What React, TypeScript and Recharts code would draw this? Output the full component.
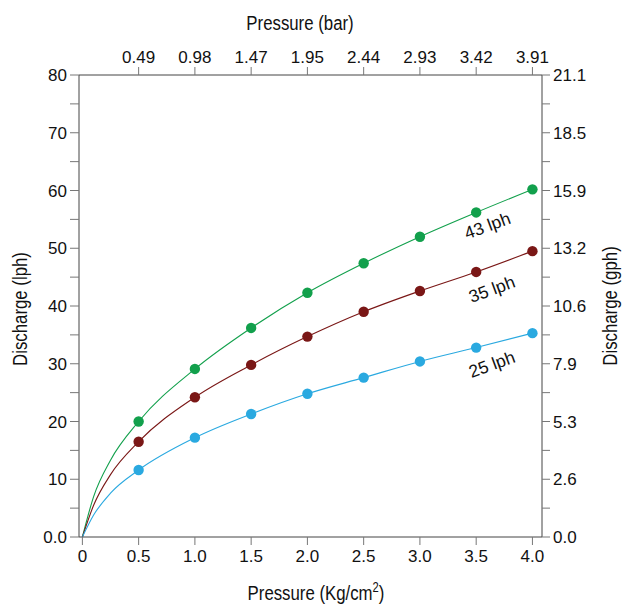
import { LineChart, Line, XAxis, YAxis, ReferenceDot } from "recharts";

// pressure in kg/cm2; the first entries before 0.5 only trace the curve back to the origin
const pressureKg = [0, 0.1, 0.25, 0.5, 1.0, 1.5, 2.0, 2.5, 3.0, 3.5, 4.0];
const lph43 = [0, 7.0, 13.3, 20.0, 29.1, 36.2, 42.3, 47.4, 52.0, 56.2, 60.2];
const lph35 = [0, 5.5, 10.8, 16.5, 24.2, 29.8, 34.7, 39.0, 42.6, 45.9, 49.5];
const lph25 = [0, 3.8, 7.6, 11.6, 17.2, 21.3, 24.8, 27.6, 30.4, 32.8, 35.3];
const firstMeasured = 0.5;

const kgTicks = [0, 0.5, 1.0, 1.5, 2.0, 2.5, 3.0, 3.5, 4.0];
const kgLabels = ["0", "0.5", "1.0", "1.5", "2.0", "2.5", "3.0", "3.5", "4.0"];
const barTicks = [0.5, 1.0, 1.5, 2.0, 2.5, 3.0, 3.5, 4.0];
const barLabels = ["0.49", "0.98", "1.47", "1.95", "2.44", "2.93", "3.42", "3.91"];
const lphTicks = [0, 5, 10, 15, 20, 25, 30, 35, 40, 45, 50, 55, 60, 65, 70, 75, 80];
const lphLabels = ["0.0", "", "10", "", "20", "", "30", "", "40", "", "50", "", "60", "", "70", "", "80"];
const gphLabels = ["0.0", "", "2.6", "", "5.3", "", "7.9", "", "10.6", "", "13.2", "", "15.9", "", "18.5", "", "21.1"];

const data = pressureKg.map((kg, i) => ({
  kg,
  l43: lph43[i],
  l35: lph35[i],
  l25: lph25[i],
}));

const GREEN = "#12a04c";
const RED = "#7a1716";
const BLUE = "#2aa9e0";

const FONT = "Liberation Sans, Arial, sans-serif";
const tickFont = { fontSize: 17, fill: "#111", fontFamily: FONT };
const AXIS = "#444";
const TICK = "#777";

// the original uses a condensed face; squeeze regular sans horizontally
const Title = ({ x, y, rotate = 0, children }: any) => (
  <g transform={`translate(${x} ${y}) rotate(${rotate}) scale(0.8 1)`}>
    <text x={0} y={0} textAnchor="middle" fontSize={21} fill="#111" fontFamily={FONT}>
      {children}
    </text>
  </g>
);

const dotFor = (color: string) => (p: any) =>
  p.payload.kg >= firstMeasured ? (
    <circle key={`d-${color}-${p.index}`} cx={p.cx} cy={p.cy} r={5.2} fill={color} stroke="none" />
  ) : (
    <g key={`d-${color}-${p.index}`} />
  );

const curveLabel = (text: string) => (p: any) =>
  (
    <text
      x={p.cx}
      y={p.cy}
      transform={`rotate(-20 ${p.cx} ${p.cy})`}
      textAnchor="middle"
      dominantBaseline="central"
      fontSize={17.5}
      fill="#111"
      fontFamily={FONT}
    >
      {text}
    </text>
  );

export default function App() {
  return (
    <div style={{ position: "absolute", left: 0, top: 0 }}>
      <LineChart width={625} height={607} data={data} margin={{ top: 35, right: 35, bottom: 35, left: 35 }}>
        <XAxis
          xAxisId="bottom"
          dataKey="kg"
          type="number"
          domain={[-0.03, 4.085]}
          ticks={kgTicks}
          tickFormatter={(v: number) => kgLabels[kgTicks.indexOf(v)] ?? ""}
          height={35}
          tickSize={8}
          tickMargin={5}
          tick={tickFont}
          axisLine={{ stroke: AXIS }}
          tickLine={{ stroke: TICK }}
          label={() => (
            <Title x={316} y={600}>
              Pressure (Kg/cm
              <tspan dy={-8} fontSize={14}>2</tspan>
              <tspan dy={8}>)</tspan>
            </Title>
          )}
        />
        <XAxis
          xAxisId="top"
          orientation="top"
          dataKey="kg"
          type="number"
          domain={[-0.03, 4.085]}
          ticks={barTicks}
          tickFormatter={(v: number) => barLabels[barTicks.indexOf(v)] ?? ""}
          height={40}
          tickSize={8}
          tickMargin={4}
          tick={tickFont}
          axisLine={{ stroke: AXIS }}
          tickLine={{ stroke: TICK }}
          label={() => (
            <Title x={300} y={30}>
              Pressure (bar)
            </Title>
          )}
        />
        <YAxis
          yAxisId="left"
          type="number"
          domain={[0, 80]}
          ticks={lphTicks}
          tickFormatter={(v: number) => lphLabels[lphTicks.indexOf(v)] ?? ""}
          width={44}
          tickSize={9}
          tickMargin={3}
          tick={tickFont}
          axisLine={{ stroke: AXIS }}
          tickLine={{ stroke: TICK }}
          label={() => (
            <Title x={27} y={309} rotate={-90}>
              Discharge (lph)
            </Title>
          )}
        />
        <YAxis
          yAxisId="right"
          orientation="right"
          type="number"
          domain={[0, 80]}
          ticks={lphTicks}
          tickFormatter={(v: number) => gphLabels[lphTicks.indexOf(v)] ?? ""}
          width={48}
          tickSize={8}
          tickMargin={3}
          tick={tickFont}
          axisLine={{ stroke: AXIS }}
          tickLine={{ stroke: TICK }}
          label={() => (
            <Title x={617} y={306} rotate={-90}>
              Discharge (gph)
            </Title>
          )}
        />
        <Line
          xAxisId="bottom"
          yAxisId="left"
          dataKey="l43"
          type="monotone"
          stroke={GREEN}
          strokeWidth={1.1}
          dot={dotFor(GREEN)}
          activeDot={false}
          isAnimationActive={false}
        />
        <Line
          xAxisId="bottom"
          yAxisId="left"
          dataKey="l35"
          type="monotone"
          stroke={RED}
          strokeWidth={1.1}
          dot={dotFor(RED)}
          activeDot={false}
          isAnimationActive={false}
        />
        {/* same 0–80 scale as the left axis; bound here so the right axis gets drawn */}
        <Line
          xAxisId="bottom"
          yAxisId="right"
          dataKey="l25"
          type="monotone"
          stroke={BLUE}
          strokeWidth={1.1}
          dot={dotFor(BLUE)}
          activeDot={false}
          isAnimationActive={false}
        />
        <ReferenceDot xAxisId="bottom" yAxisId="left" x={3.6} y={53.9} r={0} shape={curveLabel("43 lph")} />
        <ReferenceDot xAxisId="bottom" yAxisId="left" x={3.64} y={42.9} r={0} shape={curveLabel("35 lph")} />
        <ReferenceDot xAxisId="bottom" yAxisId="left" x={3.64} y={29.9} r={0} shape={curveLabel("25 lph")} />
      </LineChart>
    </div>
  );
}
